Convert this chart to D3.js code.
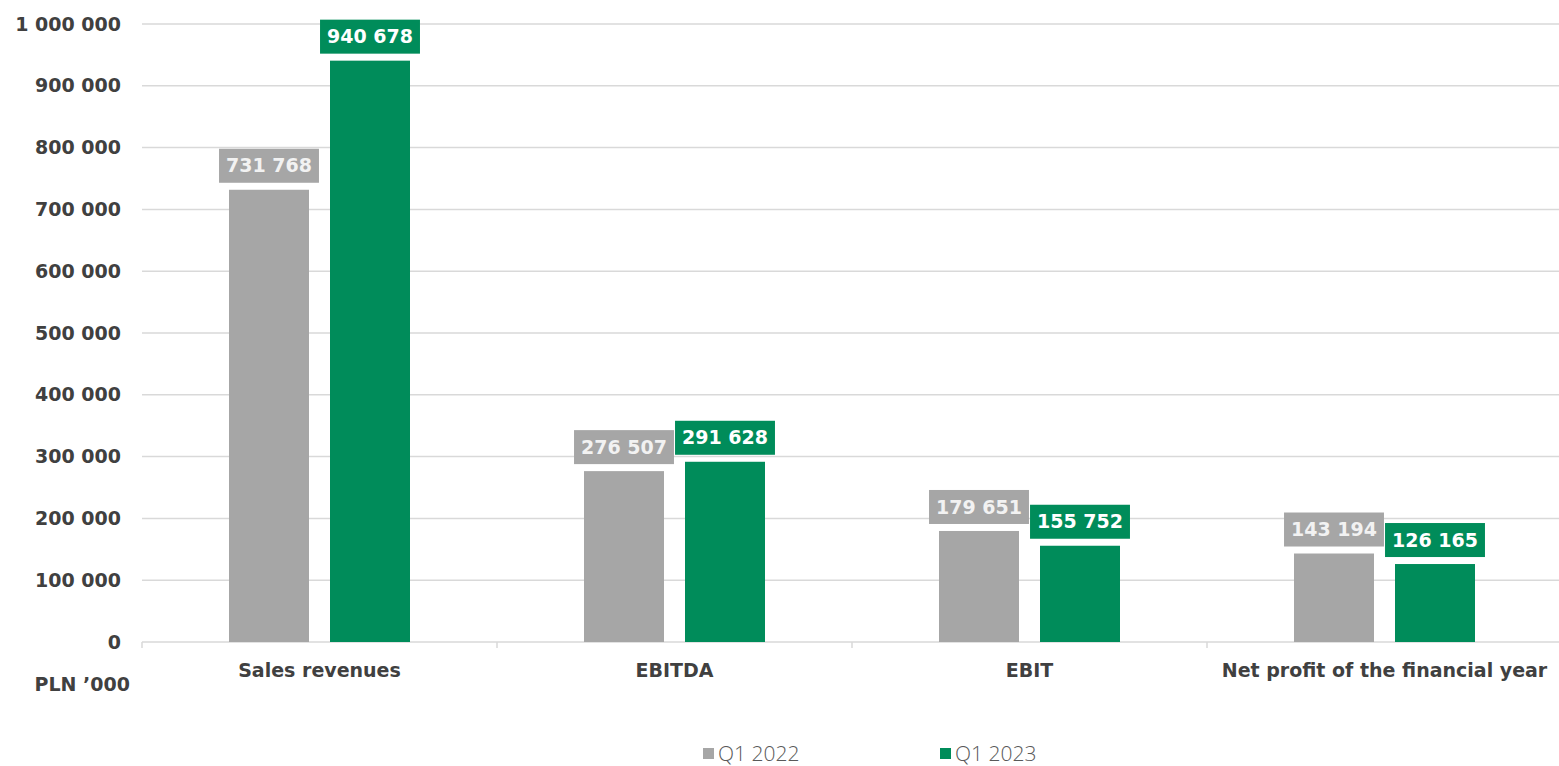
<!DOCTYPE html>
<meta charset="utf-8">
<script src="https://d3js.org/d3.v7.min.js"></script>
<style>
  body { margin: 0; background: #fff; }
  text { font-family: "DejaVu Sans", sans-serif; }
  text.light { font-family: "Open Sans", sans-serif; }
</style>
<body>
<div id="chart"></div>
<script>
  // chart data
  var categories = ["Sales revenues", "EBITDA", "EBIT", "Net profit of the financial year"];
  var seriesNames = ["Q1 2022", "Q1 2023"];
  var q1_2022 = [731768, 276507, 179651, 143194];
  var q1_2023 = [940678, 291628, 155752, 126165];
  var yTicks = [0, 100000, 200000, 300000, 400000, 500000, 600000, 700000, 800000, 900000, 1000000];

  var colors = ["#a6a6a6", "#008c5a"];
  var labelText = ["#f2f2f2", "#ffffff"];

  var width = 1559, height = 766;
  var margin = {top: 24, right: 0, bottom: 124, left: 142};
  var plotW = 1562 - margin.left, plotH = height - margin.top - margin.bottom;

  var fmt = function(v) { return d3.format(",")(v).replace(/,/g, " "); };

  var svg = d3.select("#chart").append("svg")
      .attr("width", width)
      .attr("height", height);

  var g = svg.append("g")
      .attr("transform", "translate(" + margin.left + "," + margin.top + ")");

  var x = d3.scaleBand().domain(categories).range([0, plotW]);
  var y = d3.scaleLinear().domain([0, 1000000]).range([plotH, 0]);

  // gridlines
  g.append("g").selectAll("line")
    .data(yTicks)
    .enter().append("line")
      .attr("x1", 0).attr("x2", plotW)
      .attr("y1", function(d) { return y(d); })
      .attr("y2", function(d) { return y(d); })
      .style("stroke", "#d9d9d9")
      .style("stroke-width", 1.5);

  // y axis labels
  g.append("g").selectAll("text")
    .data(yTicks)
    .enter().append("text")
      .attr("x", -21)
      .attr("y", function(d) { return y(d); })
      .attr("dy", "0.35em")
      .attr("text-anchor", "end")
      .style("font-size", "19px")
      .style("font-weight", "bold")
      .style("fill", "#404040")
      .text(function(d) { return fmt(d); });

  // category tick marks on the zero line
  var bounds = categories.map(function(c) { return x(c); }).concat([plotW]);
  g.append("g").selectAll("line")
    .data(bounds)
    .enter().append("line")
      .attr("x1", function(d) { return d; }).attr("x2", function(d) { return d; })
      .attr("y1", plotH).attr("y2", plotH + 6)
      .style("stroke", "#d9d9d9")
      .style("stroke-width", 1.5);

  // category labels
  g.append("g").selectAll("text")
    .data(categories)
    .enter().append("text")
      .attr("x", function(d) { return x(d) + x.bandwidth() / 2; })
      .attr("y", plotH + 35)
      .attr("text-anchor", "middle")
      .style("font-size", "19px")
      .style("font-weight", "bold")
      .style("fill", "#404040")
      .text(function(d) { return d; });

  svg.append("text")
    .attr("x", 130)
    .attr("y", 691)
    .attr("text-anchor", "end")
    .style("font-size", "19px")
    .style("font-weight", "bold")
    .style("fill", "#404040")
    .text("PLN \u2019000");

  // bars
  var barW = 80, gap = 21;
  var sub = d3.scaleOrdinal().domain([0, 1]).range([-(barW + gap) / 2, (barW + gap) / 2]);
  var series = [q1_2022, q1_2023];

  series.forEach(function(vals, si) {
    var grp = g.append("g");
    vals.forEach(function(v, i) {
      var cx = x(categories[i]) + x.bandwidth() / 2 + sub(si);
      grp.append("rect")
        .attr("x", cx - barW / 2)
        .attr("y", y(v))
        .attr("width", barW)
        .attr("height", plotH - y(v))
        .style("fill", colors[si]);

      // value label with box
      var lbl = grp.append("g");
      var t = lbl.append("text")
        .attr("x", cx)
        .attr("y", y(v) - 24)
        .attr("dy", "0.35em")
        .attr("text-anchor", "middle")
        .style("font-size", "19px")
        .style("font-weight", "bold")
        .style("fill", labelText[si])
        .text(fmt(v));
      var bb = t.node().getBBox();
      var boxW = bb.width + 14;
      lbl.insert("rect", "text")
        .attr("x", cx - boxW / 2)
        .attr("y", y(v) - 41)
        .attr("width", boxW)
        .attr("height", 34)
        .style("fill", colors[si]);
    });
  });

  // legend
  var legend = svg.append("g").attr("transform", "translate(703,748)");
  var legX = [0, 237];
  seriesNames.forEach(function(name, i) {
    legend.append("rect")
      .attr("x", legX[i]).attr("y", 0)
      .attr("width", 11).attr("height", 11)
      .style("fill", colors[i]);
    legend.append("text")
      .attr("class", "light")
      .attr("x", legX[i] + 15).attr("y", 6)
      .attr("dy", "0.35em")
      .style("font-size", "21px")
      .style("font-weight", "300")
      .style("fill", "#595959")
      .text(name);
  });
</script>
</body>
</html>
